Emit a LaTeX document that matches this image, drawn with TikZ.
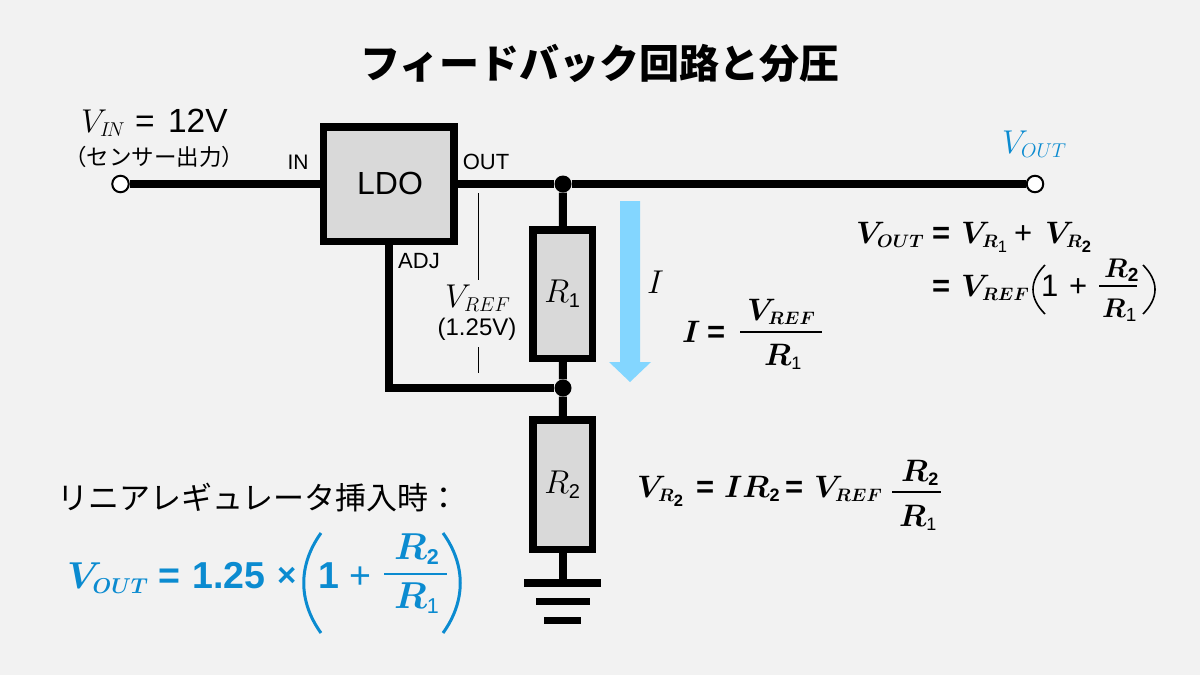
\documentclass[tikz,border=0pt]{standalone}
\usepackage{fix-cm}
\usepackage{amsmath}
\usepackage{fontspec}
\setmainfont{Liberation Sans}
\newfontfamily\jpfont{Noto Sans CJK JP}
\definecolor{bgcol}{HTML}{F2F2F2}
\definecolor{boxcol}{HTML}{D9D9D9}
\definecolor{outblue}{HTML}{0B8BD0}
\definecolor{flowblue}{HTML}{83D6FF}
\DeclareMathSizes{33}{33}{20}{15}
\DeclareMathSizes{31}{31}{18}{16.5}
\DeclareMathSizes{27}{27}{19}{15}
\DeclareMathSizes{37.5}{37.5}{21.5}{16}
\newcommand{\fs}[1]{\fontsize{#1}{#1}\selectfont}
\newcommand{\one}{\text{\mdseries 1}}
\newcommand{\two}{\text{\bfseries 2}}
\tikzset{
  wire/.style={line width=8pt},
  part/.style={draw, line width=7.5pt, fill=boxcol, inner sep=0pt},
  term/.style={circle, draw, line width=2pt, fill=white, minimum size=16.5pt, inner sep=0pt},
  dot/.style={circle, fill=black, minimum size=17pt, inner sep=0pt},
  bar/.style={fill=black, inner sep=0pt, minimum height=7.5pt},
  lab/.style={anchor=base west, inner sep=0pt},
  eqn/.style={lab, font=\fs{31}\boldmath\bfseries},
  frc/.style={lab, font=\fs{27}\boldmath\bfseries},
  blu/.style={lab, text=outblue, font=\fs{37.5}\boldmath\bfseries},
  paren/.style={line width=1.6pt}
}
\begin{document}
\begin{tikzpicture}[x=1pt, y=-1pt]
\fill [bgcol] (0,0) rectangle (1200,675);

\node [font=\jpfont\bfseries\fs{40}, inner sep=0pt] (title) at (600,63) {フィードバック回路と分圧};

\node [term] (vin) at (120.5,184) {};
\node [term] (vout) at (1035,184) {};
\node [dot] (jtop) at (563,184) {};
\node [dot] (jadj) at (563,388) {};
\node [part, minimum width=130.5pt, minimum height=114.5pt, font=\fs{32}] (ldo) at (388.5,184) {\hspace*{3pt}\raisebox{2pt}{LDO}};
\node [part, minimum width=59.5pt, minimum height=128.5pt, font=\fs{33}] (rone) at (562.5,294) {$R_{\text{1}}$};
\node [part, minimum width=59.5pt, minimum height=129.5pt, font=\fs{33}] (rtwo) at (562.5,484.5) {$R_{\text{2}}$};

\foreach \n/\y/\w in {a/583/76.5,b/601.7/54,c/620.7/36.5}
  \node [bar, minimum width=\w pt] (gnd\n) at (562.5,\y) {};

\draw [wire] (vin) -- (ldo);
\draw [wire] (ldo) -- (jtop) -- (vout);
\draw [wire] (jtop) -- (rone);
\draw [wire] (rone) -- (jadj) -- (rtwo);
\draw [wire] (rtwo) -- (gnda);
\draw [wire] (ldo.south) |- (jadj);

% current arrow
\fill [flowblue] (620,201) -- (640,201) -- (640,362) -- (651,362) -- (630,382)
  -- (609,362) -- (620,362) -- cycle;
\node [lab, font=\fs{33}] (icur) at (647,293) {$I$};

\node [font=\fs{21}, inner sep=0pt] (pinin) at (298,162) {IN};
\node [font=\fs{22}, inner sep=0pt] (pinout) at (486,162) {OUT};
\node [font=\fs{22}, inner sep=0pt] (pinadj) at (419,261) {ADJ};

\node [lab, font=\fs{33}] (vinlab) at (81,132) {$V_{I\!N}$};
\node [lab, font=\fs{33.5}] (vinval) at (135,132) {=\hspace{4pt} 12V};
\node [font=\jpfont\fs{22.5}, inner sep=0pt] (vinsub) at (154,157) {（センサー出力）};
\node [lab, font=\fs{33}, text=outblue] (voutlab) at (1002,153) {$V_{OUT}$};

\node [lab, font=\fs{33}] (vref) at (445,307) {$V_{REF}$};
\node [font=\fs{24}, inner sep=0pt] (vrefval) at (477,329) {(1.25V)};
\coordinate (tka) at (478.5,193);
\coordinate (tkb) at (478.5,280);
\coordinate (tkc) at (478.5,347);
\coordinate (tkd) at (478.5,373);
\draw [line width=1.8pt] (tka) -- (tkb) (tkc) -- (tkd);

% V_OUT = V_R1 + V_R2
\node [eqn] (eaa) at (856,243) {$V_{OUT}$};
\node [eqn] (eab) at (932,243) {=};
\node [eqn] (eac) at (961,243) {$V_{R_{\one}}$};
\node [lab, font=\fs{31}] (ead) at (1014,243) {+};
\node [eqn] (eae) at (1045,243) {$V_{R_{\two}}$};
% = V_REF (1 + R2/R1)
\node [eqn] (eba) at (932,296) {=};
\node [eqn] (ebb) at (961,296) {$V_{REF}$};
\node [lab, font=\fs{31}] (ebc) at (1041,296) {1};
\node [lab, font=\fs{31}] (ebd) at (1069,296) {+};
\node [frc] (ebn) at (1104,277) {$R_{\two}$};
\node [frc] (ebm) at (1102,317) {$R_{\one}$};
\coordinate (eba1) at (1099,286);
\coordinate (eba2) at (1137,286);
\draw [line width=1.4pt] (eba1) -- (eba2);
\draw [paren] (1045,265) .. controls (1029,281) and (1029,298) .. (1045,314);
\draw [paren] (1143,265) .. controls (1159,281) and (1159,298) .. (1143,314);

% I = V_REF / R1
\node [eqn] (eca) at (682,342) {$I$};
\node [eqn] (ecb) at (707,342) {=};
\node [eqn] (ecn) at (747,320) {$V_{REF}$};
\node [frc, font=\fs{31}\boldmath\bfseries] (ecm) at (764,365) {$R_{\one}$};
\coordinate (eca1) at (740,332);
\coordinate (eca2) at (822,332);
\draw [line width=1.4pt] (eca1) -- (eca2);

% V_R2 = I R2 = V_REF R2/R1
\node [eqn] (eda) at (637,497) {$V_{R_{\two}}$};
\node [eqn] (edb) at (696,497) {=};
\node [eqn] (edc) at (724,497) {$IR_{\two}$};
\node [eqn] (edd) at (785,497) {=};
\node [eqn] (ede) at (814,497) {$V_{REF}$};
\node [frc, font=\fs{31}\boldmath\bfseries] (edn) at (901,481) {$R_{\two}$};
\node [frc, font=\fs{31}\boldmath\bfseries] (edm) at (899,526) {$R_{\one}$};
\coordinate (eda1) at (892,492);
\coordinate (eda2) at (941,492);
\draw [line width=1.4pt] (eda1) -- (eda2);

\node [font=\jpfont\fs{31}, anchor=west, inner sep=0pt] (linear) at (57,498) {リニアレギュレータ挿入時：};

% blue result
\node [blu] (fa) at (67,588) {$V_{OUT}$};
\node [blu] (fb) at (158,588) {=};
\node [blu] (fc) at (192,588) {1.25};
\node [blu, font=\fs{33}\bfseries] (fd) at (277,586) {×};
\node [blu] (fe) at (318,588) {1};
\node [blu, font=\fs{37.5}] (ff) at (349,588) {+};
\node [blu] (fn) at (394,559) {$R_{\two}$};
\node [blu] (fm) at (394,608) {$R_{\one}$};
\coordinate (fa1) at (384,574);
\coordinate (fa2) at (447,574);
\draw [outblue, line width=1.6pt] (fa1) -- (fa2);
\draw [outblue, line width=3pt] (321,533) .. controls (298,565) and (298,601) .. (321,633);
\draw [outblue, line width=3pt] (443,533) .. controls (466,565) and (466,601) .. (443,633);
\end{tikzpicture}
\end{document}
